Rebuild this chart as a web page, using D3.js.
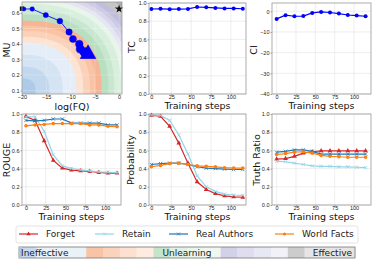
<!DOCTYPE html>
<html>
<head>
<meta charset="utf-8">
<script src="https://cdn.jsdelivr.net/npm/d3@7"></script>
<style>
  body { margin: 0; background: #fff; }
  svg { display: block; font-family: "DejaVu Sans", sans-serif; }
  .tick text { font-size: 5.5px; fill: #222; }
  .lab { font-size: 9.5px; fill: #111; }
</style>
</head>
<body>
<svg id="chart" width="374" height="260"></svg>
<script>
// ---- data ----
var steps = [0, 11.5, 23, 34.5, 46, 57.5, 69, 80.5, 92, 103.5, 115];

// MU vs log(FQ) trajectory
var fqPath = [-19.6, -17.9, -15.1, -12.2, -10.3, -9.5, -8.2, -8.0, -7.2, -6.8, -6.4];
var muPath = [0.626, 0.626, 0.587, 0.548, 0.477, 0.432, 0.400, 0.367, 0.348, 0.345, 0.335];
var startPoint = [-20, 0.628];
var targetPoint = [0, 0.626];

var tcVals = [0.934, 0.936, 0.932, 0.933, 0.935, 0.956, 0.953, 0.946, 0.940, 0.940, 0.937];
var ciVals = [-3.7, -1.9, -2.4, -2.3, -0.8, -0.3, -0.6, -1.1, -1.8, -2.1, -2.4];

var seriesNames = ["Forget", "Retain", "Real Authors", "World Facts"];

var rougeForget = [0.974, 0.93, 0.706, 0.49, 0.405, 0.383, 0.375, 0.368, 0.357, 0.35, 0.35];
var rougeRetain = [0.97, 0.97, 0.81, 0.55, 0.43, 0.40, 0.385, 0.375, 0.365, 0.36, 0.355];
var rougeReal   = [0.93, 0.925, 0.93, 0.945, 0.945, 0.90, 0.90, 0.90, 0.90, 0.88, 0.88];
var rougeWorld  = [0.87, 0.88, 0.885, 0.895, 0.895, 0.895, 0.895, 0.88, 0.88, 0.865, 0.86];

var probForget = [0.985, 0.975, 0.865, 0.68, 0.46, 0.255, 0.17, 0.125, 0.10, 0.09, 0.085];
var probRetain = [0.99, 0.985, 0.93, 0.77, 0.56, 0.32, 0.20, 0.15, 0.12, 0.11, 0.105];
var probReal   = [0.445, 0.455, 0.46, 0.46, 0.445, 0.42, 0.405, 0.40, 0.395, 0.39, 0.39];
var probWorld  = [0.42, 0.435, 0.455, 0.46, 0.445, 0.43, 0.425, 0.42, 0.41, 0.405, 0.405];

var trForget = [0.505, 0.51, 0.535, 0.57, 0.585, 0.595, 0.595, 0.595, 0.595, 0.595, 0.595];
var trRetain = [0.48, 0.475, 0.46, 0.445, 0.43, 0.425, 0.425, 0.42, 0.42, 0.415, 0.41];
var trReal   = [0.58, 0.59, 0.605, 0.605, 0.59, 0.56, 0.56, 0.56, 0.56, 0.56, 0.56];
var trWorld  = [0.555, 0.565, 0.58, 0.585, 0.57, 0.545, 0.535, 0.53, 0.525, 0.525, 0.525];

// background score levels and colour-bar labels
var blueLevels   = [0, 0.14, 0.28, 0.42];
var orangeLevels = [0.56, 0.63, 0.70, 0.76];
var greenLevels  = [0.82, 0.89, 0.95, 1.02];
var purpleLevels = [1.07, 1.11, 1.15, 1.19];
var greyLevels   = [1.24, 1.32];
var barLabels = ["Ineffective", "Unlearning", "Effective"];

// ---- styles ----
var seriesColors = ["#d62728", "#93d4e6", "#1f77b4", "#ff7f0e"];
var seriesSymbols = [d3.symbolTriangle, d3.symbolX, d3.symbolX, d3.symbolCircle];
var bandColors = {
    blue:   ["#adcbe7", "#c2d8ee", "#d5e4f3", "#e5eef8"],
    orange: ["#fde3d2", "#fbd2b9", "#f9c3a4", "#f6b594"],
    green:  ["#b7dfc0", "#c9e7d0", "#d9efde", "#e7f5ea"],
    purple: ["#e6e5f2", "#d9d7ec", "#cccae4", "#c0bedc"],
    grey:   ["#c6c6c6", "#ababab"]
};
var barColors = [
    "#c6dbef", "#e9f1f9", "#e9f1f9", "#e9f1f9",
    "#f9c4a6", "#fbd3bd", "#fde0cf", "#feece1",
    "#c5e5cb", "#e1f2e4", "#e9f6eb", "#eef8ef",
    "#d3d1e8", "#dfddef", "#e8e7f4", "#f2f1f8",
    "#cccccc", "#e5e5e5", "#e5e5e5", "#e5e5e5"
];

var svg = d3.select("#chart");

var panels = [
    {left: 22,  top: 2,   w: 100, h: 92},
    {left: 149, top: 3,   w: 97,  h: 91},
    {left: 272, top: 3,   w: 99,  h: 91},
    {left: 22,  top: 114, w: 99,  h: 91},
    {left: 149, top: 114, w: 97,  h: 91},
    {left: 272, top: 114, w: 99,  h: 91}
];

function makeAxes(p, xDomain, yDomain, xTicks, yTicks, yFmt) {
    var x = d3.scaleLinear().domain(xDomain).range([p.left, p.left + p.w]);
    var y = d3.scaleLinear().domain(yDomain).range([p.top + p.h, p.top]);
    var g = svg.append("g");

    // grid
    g.selectAll(".gx").data(xTicks).enter().append("line")
        .attr("x1", function(d){ return x(d); }).attr("x2", function(d){ return x(d); })
        .attr("y1", p.top).attr("y2", p.top + p.h)
        .attr("stroke", "#e3e3e3").attr("stroke-width", 0.6);
    g.selectAll(".gy").data(yTicks).enter().append("line")
        .attr("y1", function(d){ return y(d); }).attr("y2", function(d){ return y(d); })
        .attr("x1", p.left).attr("x2", p.left + p.w)
        .attr("stroke", "#e3e3e3").attr("stroke-width", 0.6);

    p.x = x; p.y = y; p.g = g;
    p.xTicks = xTicks; p.yTicks = yTicks; p.yFmt = yFmt;
    return p;
}

function finishAxes(p) {
    var ax = svg.append("g").attr("transform", "translate(0," + (p.top + p.h) + ")")
        .call(d3.axisBottom(p.x).tickValues(p.xTicks).tickSize(1.5).tickPadding(0).tickFormat(d3.format("d")));
    var ay = svg.append("g").attr("transform", "translate(" + p.left + ",0)")
        .call(d3.axisLeft(p.y).tickValues(p.yTicks).tickSize(1.5).tickPadding(1).tickFormat(p.yFmt));
    [ax, ay].forEach(function(a){
        a.select(".domain").remove();
        a.selectAll(".tick line").attr("stroke", "#666").attr("stroke-width", 0.6);
    });
    svg.append("rect")
        .attr("x", p.left).attr("y", p.top).attr("width", p.w).attr("height", p.h)
        .attr("fill", "none").attr("stroke", "#9a9a9a").attr("stroke-width", 0.8);
}

function xLabel(p, text, yPos) {
    svg.append("text").attr("class", "lab")
        .attr("x", p.left + p.w / 2).attr("y", yPos)
        .attr("text-anchor", "middle").text(text);
}
function yLabel(xPos, yPos, text) {
    svg.append("text").attr("class", "lab")
        .attr("transform", "translate(" + xPos + "," + yPos + ") rotate(-90)")
        .attr("text-anchor", "middle").attr("dy", "0.35em").text(text);
}

// ---------- panel 1 : MU vs log(FQ) with score background ----------
var p1 = panels[0];
p1.x = d3.scaleLinear().domain([-20, 0.6]).range([p1.left, p1.left + p1.w]);
p1.y = d3.scaleLinear().domain([0.077, 0.671]).range([p1.top + p1.h, p1.top]);

var nx = 120, ny = 110;
var grid = new Array(nx * ny);
for (var j = 0; j < ny; j++) {
    for (var i = 0; i < nx; i++) {
        var fx = p1.x.invert(p1.left + (i + 0.5) * p1.w / nx);
        var fy = p1.y.invert(p1.top + (j + 0.5) * p1.h / ny);
        var a = Math.max(0, (fx + 20) / 20);
        var b = Math.max(0, (fy - 0.1) / 0.55);
        grid[j * nx + i] = Math.pow(Math.pow(a, 2.5) + Math.pow(b, 2.5), 1 / 2.5);
    }
}
var levels = [], levelColors = [];
[["blue", blueLevels], ["orange", orangeLevels], ["green", greenLevels],
 ["purple", purpleLevels], ["grey", greyLevels]].forEach(function(pair){
    pair[1].forEach(function(v, k){ levels.push(v); levelColors.push(bandColors[pair[0]][k]); });
});
var contours = d3.contours().size([nx, ny]).thresholds(levels)(grid);
var proj = d3.geoTransform({
    point: function(px, py) {
        this.stream.point(p1.left + px * p1.w / nx, p1.top + py * p1.h / ny);
    }
});
svg.append("clipPath").attr("id", "clip1").append("rect")
    .attr("x", p1.left).attr("y", p1.top).attr("width", p1.w).attr("height", p1.h);
svg.append("g").attr("clip-path", "url(#clip1)")
    .selectAll("path").data(contours).enter().append("path")
    .attr("d", d3.geoPath(proj))
    .attr("fill", function(d, k){ return levelColors[k]; });

makeAxes(p1, p1.x.domain(), p1.y.domain(), [-20, -15, -10, -5, 0], [0.1, 0.2, 0.3, 0.4, 0.5, 0.6], d3.format(".1f"));
p1.g.selectAll("line").attr("stroke", "#ffffff").attr("stroke-opacity", 0.35);

var pathPts = fqPath.map(function(v, k){ return [v, muPath[k], steps[k]]; });
var sizeScale = d3.scaleLinear().domain([0, 115]).range([2, 5]);
svg.append("path").datum(pathPts)
    .attr("d", d3.line().x(function(d){ return p1.x(d[0]); }).y(function(d){ return p1.y(d[1]); }))
    .attr("fill", "none").attr("stroke", "#1010ff").attr("stroke-width", 0.9);
svg.append("rect")
    .attr("x", p1.x(startPoint[0]) - 2.2).attr("y", p1.y(startPoint[1]) - 2.2)
    .attr("width", 4.4).attr("height", 4.4).attr("fill", "#111");
svg.selectAll(".traj").data(pathPts).enter().append("path")
    .attr("transform", function(d){ return "translate(" + p1.x(d[0]) + "," + p1.y(d[1]) + ")"; })
    .attr("d", function(d, k){
        var r = sizeScale(d[2]);
        var type = k === pathPts.length - 1 ? d3.symbolTriangle : d3.symbolCircle;
        return d3.symbol().type(type).size(Math.PI * r * r * (type === d3.symbolTriangle ? 1.4 : 1))();
    })
    .attr("fill", "#0000ff").attr("stroke", "#0000cc").attr("stroke-width", 0.4);
svg.append("path")
    .attr("transform", "translate(" + p1.x(targetPoint[0]) + "," + p1.y(targetPoint[1]) + ")")
    .attr("d", d3.symbol().type(d3.symbolStar).size(22)()).attr("fill", "#111");
finishAxes(p1);
xLabel(p1, "log(FQ)", 109.5);
yLabel(7, 50, "MU");

// ---------- panels 2,3 : TC and CI ----------
function blueLine(p, vals) {
    svg.append("path").datum(vals)
        .attr("d", d3.line().x(function(d, k){ return p.x(steps[k]); }).y(function(d){ return p.y(d); }))
        .attr("fill", "none").attr("stroke", "#0000ff").attr("stroke-width", 1.2);
    svg.selectAll(null).data(vals).enter().append("circle")
        .attr("cx", function(d, k){ return p.x(steps[k]); })
        .attr("cy", function(d){ return p.y(d); })
        .attr("r", 2).attr("fill", "#0000ff");
}

var stepTicks = [0, 25, 50, 75, 100];
var p2 = makeAxes(panels[1], [-3, 119], [0, 1], stepTicks, [0, 0.2, 0.4, 0.6, 0.8, 1.0], d3.format(".1f"));
blueLine(p2, tcVals);
finishAxes(p2);
xLabel(p2, "Training steps", 108.5);
yLabel(132, 47, "TC");

var p3 = makeAxes(panels[2], [-6, 122], [-40, 4], stepTicks, [-40, -30, -20, -10, 0], d3.format("d"));
blueLine(p3, ciVals);
finishAxes(p3);
xLabel(p3, "Training steps", 108.5);
yLabel(254, 50, "CI");

// ---------- bottom row : ROUGE, Probability, Truth Ratio ----------
function multiLines(p, seriesList) {
    seriesList.forEach(function(vals, s){
        svg.append("path").datum(vals)
            .attr("d", d3.line().x(function(d, k){ return p.x(steps[k]); }).y(function(d){ return p.y(d); }))
            .attr("fill", "none").attr("stroke", seriesColors[s]).attr("stroke-width", 1.2);
        var stroke = seriesSymbols[s] === d3.symbolX;
        svg.selectAll(null).data(vals).enter().append("path")
            .attr("transform", function(d, k){ return "translate(" + p.x(steps[k]) + "," + p.y(d) + ")"; })
            .attr("d", d3.symbol().type(seriesSymbols[s]).size(stroke ? 9 : 10))
            .attr("fill", stroke ? "none" : seriesColors[s])
            .attr("stroke", seriesColors[s]).attr("stroke-width", stroke ? 0.8 : 0);
    });
}
var probTicks = [0, 0.2, 0.4, 0.6, 0.8, 1.0];

var p4 = makeAxes(panels[3], [-5, 120], [0, 1], stepTicks, probTicks, d3.format(".1f"));
multiLines(p4, [rougeForget, rougeRetain, rougeReal, rougeWorld]);
finishAxes(p4);
xLabel(p4, "Training steps", 219.5);
yLabel(7, 160, "ROUGE");

var p5 = makeAxes(panels[4], [-3, 119], [0, 1], stepTicks, probTicks, d3.format(".1f"));
multiLines(p5, [probForget, probRetain, probReal, probWorld]);
finishAxes(p5);
xLabel(p5, "Training steps", 219.5);
yLabel(131, 160, "Probability");

var p6 = makeAxes(panels[5], [-6, 122], [0, 1], stepTicks, probTicks, d3.format(".1f"));
multiLines(p6, [trForget, trRetain, trReal, trWorld]);
finishAxes(p6);
xLabel(p6, "Training steps", 219.5);
yLabel(257, 160, "Truth Ratio");

// ---------- legend ----------
svg.append("rect").attr("x", 16).attr("y", 226).attr("width", 342).attr("height", 17)
    .attr("rx", 2).attr("fill", "#fff").attr("stroke", "#dcdcdc").attr("stroke-width", 0.8);
var legendX = [46, 122, 196, 302];
seriesNames.forEach(function(name, s){
    var tx = legendX[s];
    svg.append("line").attr("x1", tx - 27).attr("x2", tx - 8).attr("y1", 234).attr("y2", 234)
        .attr("stroke", seriesColors[s]).attr("stroke-width", 1.2);
    var stroke = seriesSymbols[s] === d3.symbolX;
    svg.append("path").attr("transform", "translate(" + (tx - 17.5) + ",234)")
        .attr("d", d3.symbol().type(seriesSymbols[s]).size(stroke ? 7 : 8))
        .attr("fill", stroke ? "none" : seriesColors[s])
        .attr("stroke", seriesColors[s]).attr("stroke-width", stroke ? 0.7 : 0);
    svg.append("text").attr("x", tx).attr("y", 237.3).attr("font-size", 9).attr("fill", "#222").text(name);
});

// ---------- colour bar ----------
var bar = d3.scaleBand().domain(d3.range(barColors.length)).range([19, 355]);
svg.selectAll(".seg").data(barColors).enter().append("rect")
    .attr("x", function(d, k){ return bar(k); }).attr("y", 247)
    .attr("width", bar.bandwidth() + 0.3).attr("height", 11)
    .attr("fill", function(d){ return d; });
svg.append("rect").attr("x", 19).attr("y", 247).attr("width", 336).attr("height", 11)
    .attr("fill", "none").attr("stroke", "#777").attr("stroke-width", 0.8);
svg.append("rect").attr("x", 19).attr("y", 247).attr("width", 3).attr("height", 11).attr("fill", "#a9c6e3");
svg.append("text").attr("x", 21).attr("y", 256).attr("font-size", 9).attr("fill", "#222").text(barLabels[0]);
svg.append("text").attr("x", 187).attr("y", 256).attr("font-size", 9).attr("fill", "#222")
    .attr("text-anchor", "middle").text(barLabels[1]);
svg.append("text").attr("x", 352).attr("y", 256).attr("font-size", 9).attr("fill", "#222")
    .attr("text-anchor", "end").text(barLabels[2]);
</script>
</body>
</html>
